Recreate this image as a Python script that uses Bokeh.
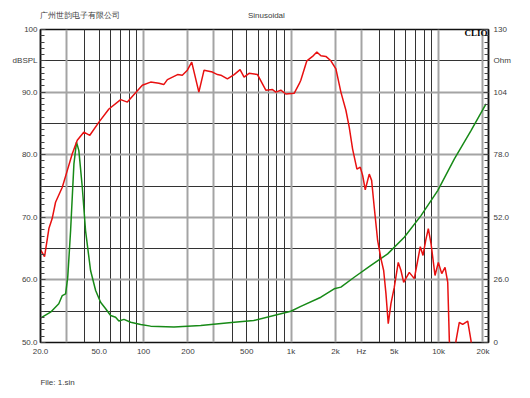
from bokeh.plotting import figure
from bokeh.models import Range1d, LinearAxis, LogAxis, FixedTicker, Grid, Label
from bokeh.embed import file_html
from bokeh.resources import INLINE

# SPL response (Hz, dBSPL)
spl_freq = [20, 20.5, 21.3, 22.8, 24.0, 25.3, 28.1, 30.4, 32.8, 35.5, 39.3, 43.2, 49.8, 58.2, 69.9, 77.6,
            98, 111.6, 127, 137, 145, 170, 183, 198, 212, 237, 257, 293, 317, 334, 370, 411, 451, 480,
            519, 592, 674, 748, 788, 852, 921, 1049, 1134, 1164, 1279, 1398, 1495, 1592, 1721, 1861,
            2013, 2176, 2353, 2478, 2613, 2795, 2944, 3056, 3183, 3388, 3516, 3662, 3862, 4066, 4243,
            4397, 4558, 4754, 5006, 5329, 5559, 5799, 6330, 6845, 7218, 7518, 7842, 8181, 8520, 8888,
            9460, 9960, 10505, 11060, 11537, 11830, 12530, 13130, 13820, 14580, 15760, 16590, 17390]
spl_db = [64.8, 64.4, 63.7, 68.2, 69.8, 72.4, 74.8, 77.5, 80.1, 82.3, 83.6, 83.1, 85.2, 87.3, 88.8, 88.4,
          91.1, 91.6, 91.4, 91.2, 92.0, 92.8, 92.7, 93.5, 94.8, 90.0, 93.5, 93.2, 92.8, 92.7, 92.1, 92.8,
          93.6, 92.4, 93.0, 92.8, 90.3, 90.4, 90.0, 90.3, 89.7, 89.8, 91.3, 91.9, 95.0, 95.7, 96.4, 95.8,
          95.7, 95.0, 93.7, 90.0, 87.1, 84.4, 80.9, 77.7, 78.0, 76.7, 74.4, 76.9, 75.9, 71.6, 66.3, 63.4,
          61.5, 57.8, 53.0, 56.2, 58.8, 62.8, 61.5, 59.6, 61.2, 60.2, 63.1, 65.3, 63.9, 66.3, 68.2, 65.8,
          60.7, 62.8, 61.0, 62.0, 59.6, 50.3, 44.0, 50.3, 53.2, 52.9, 53.4, 50.3, 44.0]

# Impedance (Hz, Ohm)
imp_freq = [20, 20.5, 23.4, 26.6, 28.1, 29.6, 30.6, 32.0, 33.7, 35.1, 36.4, 38.4, 40.4, 43.7, 47.3, 51.1,
            55.3, 59.8, 64.6, 68.0, 73.6, 81.7, 95.5, 111.6, 160.7, 244, 411, 558, 996, 1164, 1592, 1960,
            2176, 2679, 3478, 4516, 5854, 7601, 9866, 12800, 16590, 20980]
imp_ohm = [10.3, 10.5, 12.6, 16.1, 19.5, 20.2, 27.1, 46.5, 74.2, 83.2, 79.7, 64.5, 46.5, 29.9, 21.6, 16.7,
           14.0, 11.2, 10.5, 8.9, 9.6, 8.4, 7.5, 6.8, 6.4, 7.1, 8.4, 9.1, 13.0, 15.0, 18.8, 22.3,
           23.0, 27.1, 32.0, 36.8, 43.7, 52.7, 63.1, 76.3, 88.0, 99.1]

x_ticks = [20, 50, 100, 200, 500, 1000, 2000, 3000, 5000, 10000, 20000]
x_labels = ["20.0", "50.0", "100", "200", "500", "1k", "2k", "Hz", "5k", "10k", "20k"]
spl_ticks = [50, 60, 70, 80, 90, 95, 100]
spl_labels = ["50.0", "60.0", "70.0", "80.0", "90.0", "dBSPL", "100"]
ohm_ticks = [0, 26, 52, 78, 104, 117, 130]
ohm_labels = ["0", "26.0", "52.0", "78.0", "104", "Ohm", "130"]

x_grid_dark = [40, 50, 60, 70, 80, 90, 400, 500, 600, 700, 800, 900, 4000, 5000, 6000, 7000, 8000, 9000]
x_grid_gray = [30, 100, 200, 300, 1000, 2000, 3000, 10000, 20000]
y_grid_dark = [55, 65, 75, 85, 95]
y_grid_gray = [60, 70, 80, 90]

company = "广州世韵电子有限公司"
mode = "Sinusoidal"
file_note = "File: 1.sin"

FONT = "Liberation Sans"
TXT = "#3c3c3c"

p = figure(width=530, height=392, x_axis_type="log",
           x_range=Range1d(20, 21800), y_range=Range1d(50, 100),
           output_backend="svg", toolbar_location=None, tools="",
           min_border_left=40, min_border_right=42, min_border_top=29, min_border_bottom=50)
p.extra_y_ranges = {"ohm": Range1d(0, 130)}
p.background_fill_color = "white"
p.border_fill_color = "white"
p.outline_line_color = "#111111"
p.outline_line_width = 1.5

# grids
p.xgrid.ticker = FixedTicker(ticks=x_grid_dark)
p.xgrid.grid_line_color = "#333333"
p.xgrid.grid_line_width = 1
p.ygrid.ticker = FixedTicker(ticks=y_grid_dark)
p.ygrid.grid_line_color = "#333333"
p.ygrid.grid_line_width = 1
p.add_layout(Grid(dimension=0, ticker=FixedTicker(ticks=x_grid_gray),
                  grid_line_color="#a4a4a4", grid_line_width=2))
p.add_layout(Grid(dimension=1, ticker=FixedTicker(ticks=y_grid_gray),
                  grid_line_color="#a4a4a4", grid_line_width=2))

def style_labels(ax, standoff):
    ax.major_label_standoff = standoff
    ax.major_label_text_font = FONT
    ax.major_label_text_font_size = "8px"
    ax.major_label_text_color = TXT

def no_ticks(ax):
    ax.major_tick_in = 0
    ax.major_tick_out = 0
    ax.minor_tick_in = 0
    ax.minor_tick_out = 0

# x axis
xa = p.xaxis[0]
xa.ticker = FixedTicker(ticks=x_ticks)
xa.major_label_overrides = {t: l for t, l in zip(x_ticks, x_labels)}
no_ticks(xa)
xa.axis_line_color = None
style_labels(xa, 4)

# left axis
ya = p.yaxis[0]
ya.ticker = FixedTicker(ticks=spl_ticks, minor_ticks=list(range(51, 100)))
ya.major_label_overrides = {t: l for t, l in zip(spl_ticks, spl_labels)}
ya.major_tick_in = 5
ya.major_tick_out = 0
ya.minor_tick_in = 4
ya.minor_tick_out = 0
ya.major_tick_line_color = "#444444"
ya.minor_tick_line_color = "#444444"
ya.axis_line_color = "#111111"
ya.axis_line_width = 1.5
style_labels(ya, 3)

# right axis
ra = LinearAxis(y_range_name="ohm")
ra.ticker = FixedTicker(ticks=ohm_ticks, minor_ticks=[round(2.6 * i, 1) for i in range(1, 50)])
ra.major_label_overrides = {t: l for t, l in zip(ohm_ticks, ohm_labels)}
ra.major_tick_in = 5
ra.major_tick_out = 0
ra.minor_tick_in = 4
ra.minor_tick_out = 0
ra.major_tick_line_color = "#444444"
ra.minor_tick_line_color = "#444444"
ra.axis_line_color = "#111111"
ra.axis_line_width = 1.5
style_labels(ra, 5)
p.add_layout(ra, "right")

# header line (company name + measurement type) as a label-only axis above the frame
head_pos = [37.1, 680]
ta = LogAxis(ticker=FixedTicker(ticks=head_pos))
ta.major_label_overrides = {head_pos[0]: company, head_pos[1]: mode}
no_ticks(ta)
ta.axis_line_color = None
style_labels(ta, 10)
p.add_layout(ta, "above")

# footer as a label-only axis below the frequency axis
foot_pos = [26.1]
ba = LogAxis(ticker=FixedTicker(ticks=foot_pos))
ba.major_label_overrides = {foot_pos[0]: file_note}
no_ticks(ba)
ba.axis_line_color = None
style_labels(ba, 19)
p.add_layout(ba, "below")

# curves
p.line(imp_freq, imp_ohm, y_range_name="ohm", line_color="#178a17", line_width=1.5)
p.line(spl_freq, spl_db, line_color="#e81010", line_width=1.5)

p.add_layout(Label(x=21500, y=99.45, text="CLIO", text_font="Liberation Serif", text_font_style="bold",
                   text_font_size="9px", text_color="#000000", text_align="right", text_baseline="middle"))

open("out.html", "w").write(file_html(p, INLINE))
